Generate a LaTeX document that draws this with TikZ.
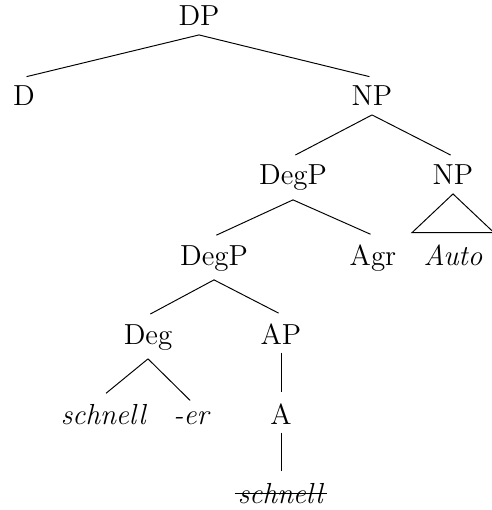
\documentclass[tikz,border=0pt,12pt]{standalone}
\usepackage{amsmath}
\usepackage{amssymb}
\usepackage{tikz}

\begin{document}
\begin{tikzpicture}[x=0.414pt,y=-0.414pt]
			\tikzset{cat/.style={anchor=base, inner xsep=2pt, inner ysep=3.5pt}}
			\tikzset{branch/.style={shorten >=1.1pt}}
			\useasboundingbox (0,0) rectangle (491,510);
			%categories
			\node[cat] (dp) at (199, 26) {DP};
			\node[cat] (d) at (24, 106) {D};
			\node[cat] (np) at (372, 106) {NP};
			\node[cat] (degp) at (293, 185) {DegP};
			\node[cat] (npb) at (453, 185) {NP};
			\node[cat] (degpb) at (214, 265) {DegP};
			\node[cat] (agr) at (373, 265) {Agr};
			\node[cat] (auto) at (453, 265) {\textit{Auto}};
			\node[cat] (deg) at (148, 344) {Deg};
			\node[cat] (ap) at (281, 344) {AP};
			\node[cat] (schnell) at (104, 424) {\textit{schnell}};
			\node[cat] (er) at (192, 424) {\textit{-er}};
			\node[cat] (a) at (281, 424) {A};
			\node[cat] (schnellb) at (281, 503) {\textit{schnell}};
			%branches
			\path (dp.south) edge[branch] (d.north);
			\path (dp.south) edge[branch] (np.north);
			\path (np.south) edge[branch] (degp.north);
			\path (np.south) edge[branch] (npb.north);
			\path (degp.south) edge[branch] (degpb.north);
			\path (degp.south) edge[branch] (agr.north);
			\path (degpb.south) edge[branch] (deg.north);
			\path (degpb.south) edge[branch] (ap.north);
			\path (deg.south) edge[branch] (schnell.north);
			\path (deg.south) edge[branch] (er.north);
			\path (ap.south) edge[branch] (a.north);
			\path (a.south) edge[branch] (schnellb.north);
			%roof and strike
			\draw (npb.south) -- ([shift={(-17pt,1.1pt)}]auto.north)
				-- ([shift={(17pt,1.1pt)}]auto.north) -- cycle;
			\draw ([shift={(1pt,4.1pt)}]schnellb.base west) -- ([shift={(-1pt,4.1pt)}]schnellb.base east);
			\end{tikzpicture}
\end{document}
